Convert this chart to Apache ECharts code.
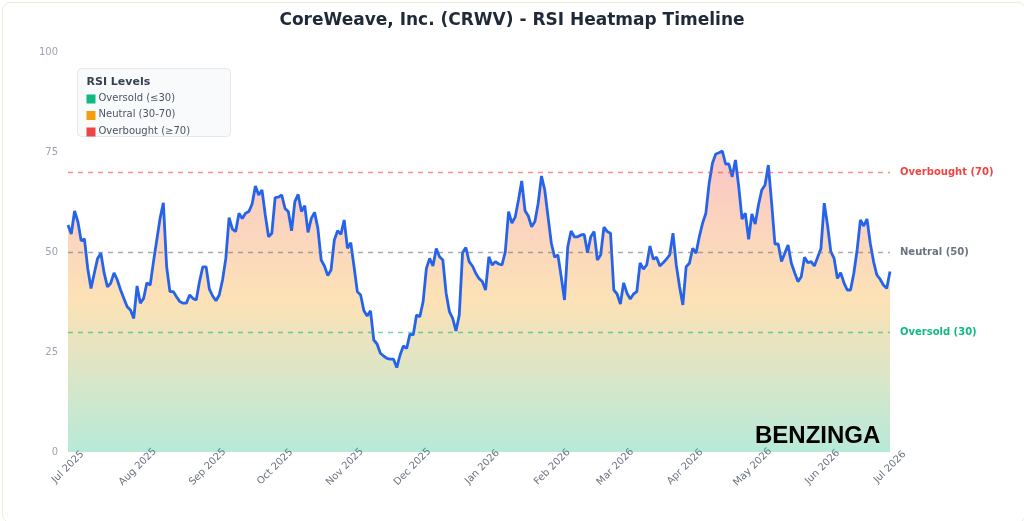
<!DOCTYPE html>
<html>
<head>
<meta charset="utf-8">
<script src="https://cdn.jsdelivr.net/npm/echarts@6/dist/echarts.min.js"></script>
<style>
    html, body { margin: 0; padding: 0; background: #fff; }
    #rsiChart { width: 1024px; height: 521px; }
</style>
</head>
<body>
<div id="rsiChart"></div>
<script>
    // RSI readings, roughly one per trading day, Jul 2025 -> Jul 2026
    var rsiValues = [
        56.75, 54.5, 60.25, 57.6, 52.8, 53.25, 45.9, 40.9, 44.7, 48.4, 49.7, 44.7, 41.3, 42.2, 44.8, 43, 40.5, 38.4, 36.3, 35.5,
        33.4, 41.5, 37.2, 38.4, 42.3, 41.75, 47.6, 53, 58.4, 62.3, 46.3, 40.1, 40.1, 38.8, 37.6, 37.2, 37.2, 39.25, 38.4, 38,
        42.6, 46.3, 46.3, 40.7, 39, 37.8, 39.25, 43, 48.4, 58.6, 55.7, 55.1, 59.7, 58.4, 59.7, 60.1, 62, 66.5, 64.25, 65.5,
        59.25, 53.8, 54.7,
        63.6, 63.7, 64.25, 60.9, 60.1, 55.3, 62.6, 64.4, 60.1, 61.6, 54.9, 58.4, 59.9, 55.9, 48, 46.5, 44.1, 45.5, 53, 55.3,
        54.4, 58, 50.9, 52.3, 46.3, 40.1, 39.25, 35.3, 34, 35.3, 28, 27, 24.7, 24, 23.4, 23.2, 23.2, 21.1, 24.25, 26.5,
        25.9, 29.5, 29.25, 34.25, 33.8, 37.6, 45.9, 48.4, 46.5, 50.9, 48.8, 48, 39.7, 35.1, 33.4, 30.25, 34.25, 49.8, 51.1, 47.6,
        46.5, 44.7, 43.4,
        42.6, 40.5, 48.8, 46.75, 47.6, 47, 46.75, 50.1, 60.1, 57.2, 58.7, 63, 67.75, 60.3, 59, 56.3, 57.6, 62.2, 69, 65.5,
        58.8, 52.2, 48.7, 49.25, 43.8, 38, 51.3, 55.25, 53.8, 53.8, 54.25, 54.4, 49.8, 53.8, 55.1, 48, 49.25, 56.2, 55.1, 54.7,
        40.5, 39.5, 37, 42.3, 39.7, 38.25, 39.5, 40.1, 47.3, 45.7, 46.75, 51.5, 48.2, 48.7, 46.5, 47.3, 48.2, 49.25, 54.7, 46.75,
        41.3, 36.75,
        46.3, 47.2, 50.9, 49.7, 53.8, 57.2, 59.7, 67.2, 72.2, 74.5, 74.8, 75.25, 72, 72, 68.8, 73, 66.3, 58.2, 59.7, 53.2,
        59.5, 57, 61.75, 65.5, 66.75, 71.75, 62.2, 52, 52, 47.6, 49.7, 51.75, 47.2, 44.8, 42.6, 43.8, 48.7, 47.3, 47.6, 46.5,
        48.7, 50.9, 62.2, 56.75, 50.1, 48.4, 43.4, 44.8, 42.3, 40.5, 40.5, 44.7, 50.5, 58, 56.5, 58.25, 52.2, 47.6, 44.25, 43.2,
        41.75, 40.9, 45.1
    ];
    var startDate = new Date(2025, 6, 1).getTime();
    var endDate = new Date(2026, 6, 1).getTime();

    // reference levels
    var levelValues = [70, 50, 30];
    var levelNames = ['Overbought (70)', 'Neutral (50)', 'Oversold (30)'];
    var levelColors = ['#ef4444', '#6b7280', '#10b981'];
    var levelLineColors = ['rgba(239,68,68,0.6)', 'rgba(107,114,128,0.6)', 'rgba(16,185,129,0.6)'];

    var legendLabels = ['Oversold (≤30)', 'Neutral (30-70)', 'Overbought (≥70)'];
    var legendColors = ['#10b981', '#f59e0b', '#ef4444'];

    var yTicks = [0, 25, 50, 75, 100];

    var step = (endDate - startDate) / (rsiValues.length - 1);
    var seriesData = rsiValues.map(function (v, i) {
        return [startDate + i * step, v];
    });

    var markLines = levelValues.map(function (v, i) {
        return {
            yAxis: v,
            lineStyle: { color: levelLineColors[i], type: [5, 5], width: 1.3 },
            label: {
                show: true, position: 'end', distance: 10,
                formatter: levelNames[i], color: levelColors[i],
                fontSize: 10, fontWeight: 'bold', fontFamily: 'DejaVu Sans'
            }
        };
    });

    var legendChildren = [{
        type: 'rect',
        shape: { x: 0, y: 0, width: 153, height: 68, r: 4 },
        style: { fill: '#f9fafb', stroke: '#e5e7eb', lineWidth: 1 }
    }, {
        type: 'text', x: 9, y: 8,
        style: { text: 'RSI Levels', font: 'bold 11px "DejaVu Sans"', fill: '#374151' }
    }];
    legendLabels.forEach(function (name, i) {
        legendChildren.push({
            type: 'rect',
            shape: { x: 9, y: 26 + i * 16.5, width: 9, height: 9 },
            style: { fill: legendColors[i] }
        });
        legendChildren.push({
            type: 'text', x: 21, y: 24.5 + i * 16.5,
            style: { text: name, font: '10px "DejaVu Sans"', fill: '#4b5563' }
        });
    });

    var myChart = echarts.init(document.getElementById('rsiChart'));
    myChart.setOption({
        backgroundColor: '#ffffff',
        animation: false,
        title: {
            text: 'CoreWeave, Inc. (CRWV) - RSI Heatmap Timeline',
            left: 'center',
            top: 7,
            textStyle: { fontSize: 17, fontWeight: 'bold', color: '#1f2937', fontFamily: 'DejaVu Sans' }
        },
        grid: { left: 68, right: 134, top: 52, bottom: 69, containLabel: false },
        xAxis: {
            type: 'time',
            min: startDate,
            max: endDate,
            minInterval: 28 * 86400000,
            maxInterval: 31 * 86400000,
            axisLine: { show: false },
            axisTick: { show: false },
            splitLine: { show: false },
            axisLabel: {
                formatter: '{MMM} {yyyy}',
                rotate: 45,
                align: 'center',
                verticalAlign: 'middle',
                margin: 15,
                color: '#6b7280',
                fontSize: 10,
                fontFamily: 'DejaVu Sans',
                showMinLabel: true,
                showMaxLabel: true,
                hideOverlap: false
            }
        },
        yAxis: {
            type: 'value',
            min: yTicks[0],
            max: yTicks[yTicks.length - 1],
            interval: 25,
            axisLine: { show: false },
            axisTick: { show: false },
            splitLine: { show: false },
            axisLabel: { color: '#9ca3af', fontSize: 10, margin: 10, fontFamily: 'DejaVu Sans' }
        },
        series: [{
            type: 'line',
            data: seriesData,
            showSymbol: false,
            lineStyle: { color: '#2563eb', width: 2.8 },
            areaStyle: {
                opacity: 1,
                color: new echarts.graphic.LinearGradient(0, 0, 0, 1, [
                    { offset: 0, color: 'rgba(239,68,68,0.3)' },
                    { offset: 0.5, color: 'rgba(245,158,11,0.3)' },
                    { offset: 1, color: 'rgba(16,185,129,0.3)' }
                ])
            },
            markLine: {
                silent: true,
                symbol: 'none',
                data: markLines
            }
        }],
        graphic: [{
            type: 'group', left: 77, top: 68, z: 100,
            children: legendChildren
        }, {
            type: 'text', left: 755, top: 424, z: 100,
            style: { text: 'BENZINGA', font: 'bold 24px "Liberation Sans"', fill: '#000000', opacity: 1 }
        }, {
            type: 'rect', left: 0, top: 0, z: 100, silent: true,
            shape: { x: 0.5, y: 0.5, width: 1023, height: 520, r: 8 },
            style: { fill: null, stroke: '#f1ead7', lineWidth: 1 }
        }]
    });
</script>
</body>
</html>
